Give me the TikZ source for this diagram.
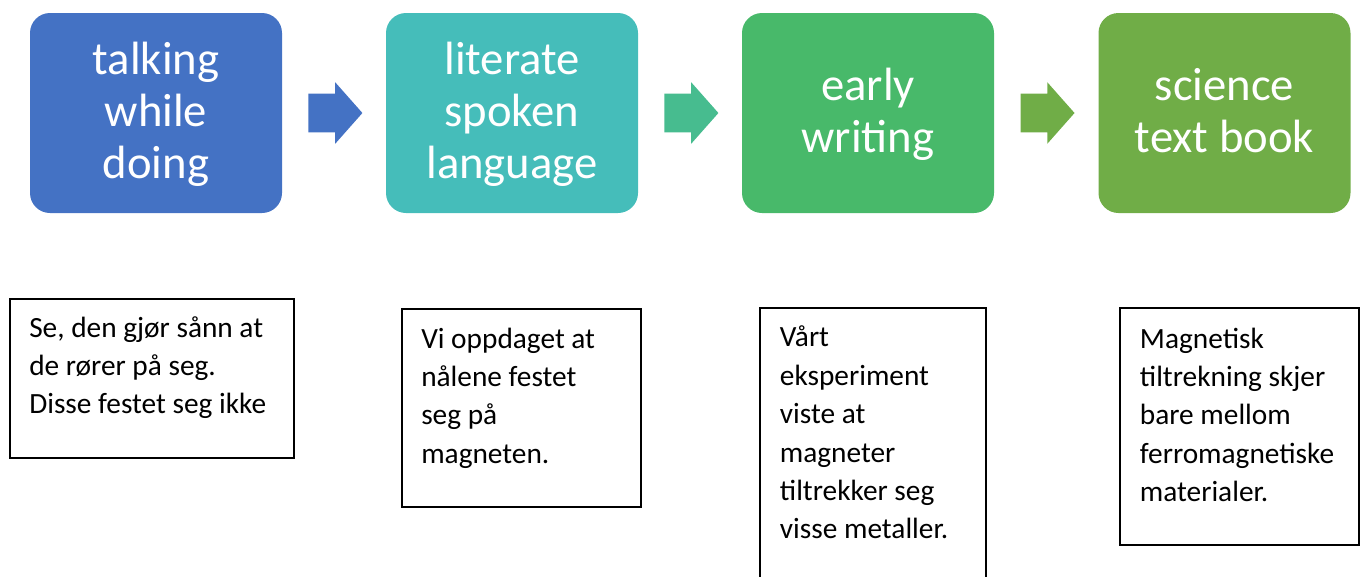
\documentclass[tikz,border=0pt]{standalone}
\usepackage{fontspec}
\setmainfont{Carlito}
\usepackage{tikz}
\usetikzlibrary{shapes}
\usetikzlibrary{positioning}
\usetikzlibrary{calc}

\definecolor{stageA}{HTML}{4472C4}
\definecolor{stageB}{HTML}{45BDBA}
\definecolor{stageC}{HTML}{48B96A}
\definecolor{stageD}{HTML}{70AD47}
\definecolor{arrowB}{HTML}{47BC8F}

\newcommand{\stagestrut}{\rule[-9pt]{0pt}{38pt}}

\tikzset{
	stagebox/.style={rounded corners=15pt, minimum width=189pt, minimum height=150pt,
		text=white, align=center, font=\fontsize{35}{39}\selectfont},
	flowarrow/.style={single arrow, single arrow head extend=8.6pt, single arrow tip angle=97,
		minimum height=40.5pt, inner xsep=0pt, inner ysep=14.25pt, anchor=tail},
	notebox/.style={draw, line width=1.2pt, anchor=north west, inner sep=0pt},
	notetext/.style={align=left, inner sep=0pt, font=\fontsize{22}{28.8}\selectfont},
}

\begin{document}
\begin{tikzpicture}[x=0.75pt,y=-0.75pt]
		\useasboundingbox (0,0) rectangle (1365,576);
		\clip (0,0) rectangle (1365,576);
		
		% stages
		\foreach \n/\x/\col/\txt in {A/156/stageA/{\stagestrut talking\\while\\doing\stagestrut},
			B/512/stageB/{\stagestrut literate\\spoken\\language\stagestrut},
			C/868/stageC/{\stagestrut early\\writing\stagestrut},
			D/1224.5/stageD/{\stagestrut science\\text book\stagestrut}}{
			\node[stagebox, fill=\col] (S-\n) at (\x,113) {\txt};
		}
		
		\foreach \a/\b/\col in {A/B/stageA, B/C/arrowB, C/D/stageD}{
			\node[flowarrow, fill=\col] (F-\a) at ($(S-\a.east)!0.25!(S-\b.west)$) {};
		}
		
		% notes
		\node[notebox, minimum width=213pt, minimum height=119.25pt] (N-A) at (9,298) {};
		\node[notebox, minimum width=179.25pt, minimum height=148.5pt] (N-B) at (401,308) {};
		\node[notebox, minimum width=169.5pt, minimum height=210pt] (N-C) at (759,307) {};
		\node[notebox, minimum width=179.25pt, minimum height=177.75pt] (N-D) at (1119,307) {};
		
		\node[notetext, below right=8.9pt and 15pt of N-A.north west] (T-A)
			{\strut Se, den gjør sånn at\\de rører på seg.\\Disse festet seg ikke};
		\node[notetext, below right=9.7pt and 15pt of N-B.north west] (T-B)
			{\strut Vi oppdaget at\\nålene festet\\seg på\\magneten.};
		\node[notetext, below right=9.6pt and 15.5pt of N-C.north west] (T-C)
			{\strut Vårt\\eksperiment\\viste at\\magneter\\tiltrekker seg\\visse metaller.};
		\node[notetext, below right=10.4pt and 15.5pt of N-D.north west] (T-D)
			{\strut Magnetisk\\tiltrekning skjer\\bare mellom\\ferromagnetiske\\materialer.};
\end{tikzpicture}
\end{document}
